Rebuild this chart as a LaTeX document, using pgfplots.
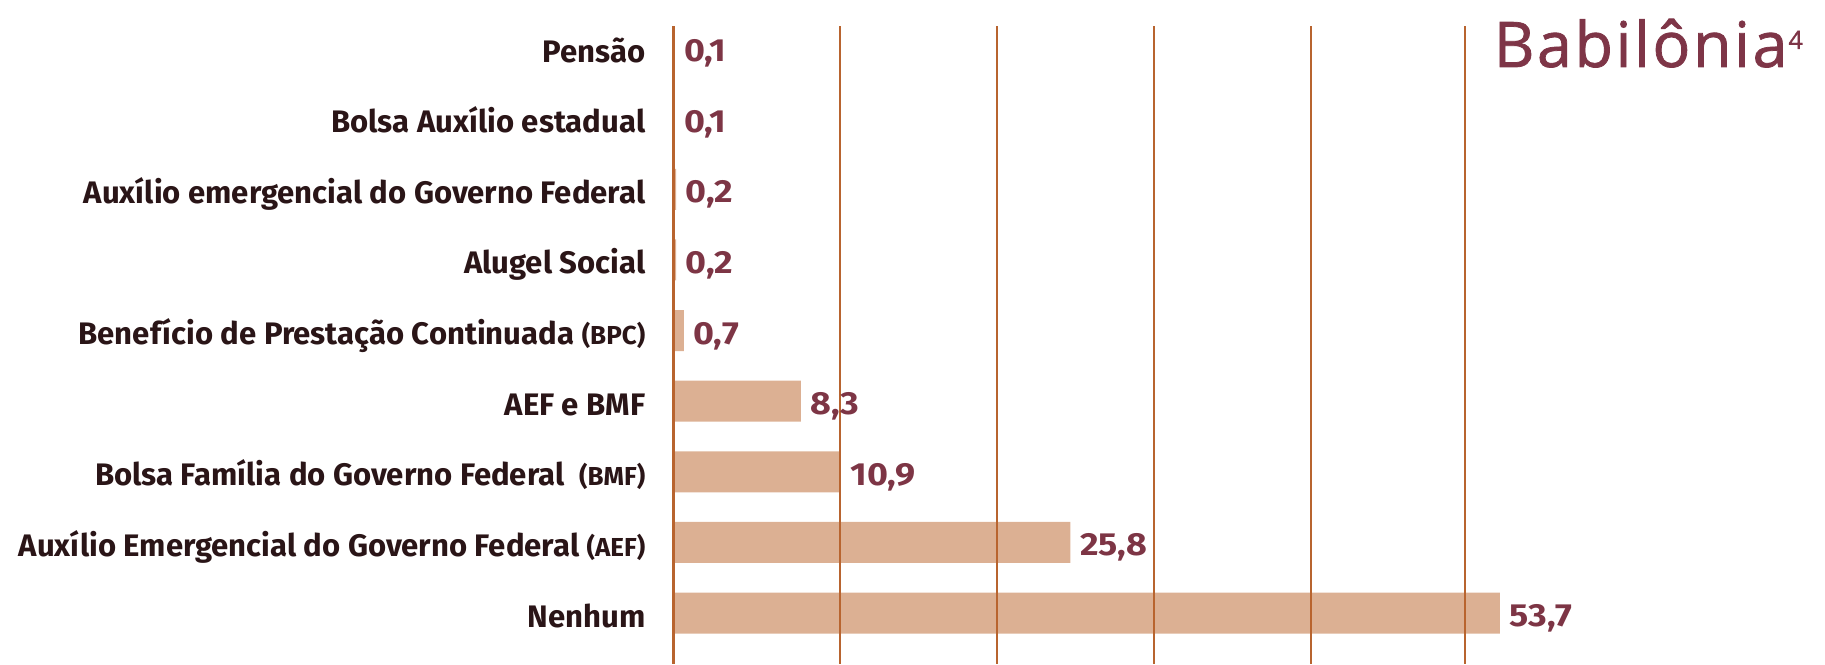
\documentclass[border=0pt]{standalone}
\usepackage{pgfplots}
\pgfplotsset{compat=1.18}
\usepackage{fontspec}
\setmainfont{Fira Sans}
\newfontfamily\valfont{Fira Sans}[FakeStretch=1.12]
\newfontfamily\logofont{Open Sans}[LetterSpace=4, FakeBold=1.2]
\definecolor{axisc}{HTML}{B8642F}
\definecolor{barc}{HTML}{DCB093}
\definecolor{valc}{HTML}{7D3545}
\definecolor{catc}{HTML}{2A1517}
\definecolor{logoc}{HTML}{7E3547}
\newcommand{\smallp}[1]{{\fontsize{7.4pt}{8pt}\selectfont #1}}
\begin{document}
\begin{tikzpicture}
\useasboundingbox (0,0) rectangle (182.5mm,66.4mm);
\begin{axis}[
  at={(67.3mm,5.1mm)}, anchor=origin,
  x=1.54mm, y=7.06mm,
  xmin=0, xmax=74.8, ymin=-0.72, ymax=8.31,
  xbar, bar width=4.1mm,
  axis line style={draw=none},
  xtick={10.84,21.04,31.23,41.43,51.43},
  xticklabels={},
  xmajorgrids,
  grid style={axisc, line width=0.15mm},
  extra x ticks={0}, extra x tick labels={},
  extra x tick style={grid style={axisc, line width=0.3mm}},
  major tick length=0pt,
  ytick={0,...,8},
  yticklabels={
    {Nenhum},
    {Auxílio Emergencial do Governo Federal \smallp{(AEF)}},
    {Bolsa Família do Governo Federal\ \ \smallp{(BMF)}},
    {AEF e BMF},
    {Benefício de Prestação Continuada \smallp{(BPC)}},
    {Alugel Social},
    {Auxílio emergencial do Governo Federal},
    {Bolsa Auxílio estadual},
    {Pensão}},
  yticklabel style={anchor=base east, inner sep=0pt, xshift=-2.7mm, yshift=-1.4mm,
    font=\bfseries\fontsize{8.85pt}{10pt}\selectfont, text=catc},
  axis on top,
  nodes near coords,
  point meta=x,
  nodes near coords style={anchor=base west, inner sep=0pt, xshift=0.9mm, yshift=-1.35mm,
    font=\valfont\bfseries\fontsize{9.1pt}{10pt}\selectfont, text=valc,
    /pgf/number format/.cd, fixed, fixed zerofill, precision=1, use comma, assume math mode=true},
]
\addplot[fill=barc, draw=none] coordinates {
  (53.7,0) (25.8,1) (10.9,2) (8.3,3) (0.7,4) (0.2,5) (0.2,6) (0.1,7) (0.1,8)
};
\end{axis}
\node[anchor=base west, inner sep=0pt, text=logoc,
  font=\logofont\fontsize{17.9pt}{20pt}\selectfont] at (149.3mm,59.7mm)
  {Babilônia\hspace{0.1mm}\raisebox{1.8mm}{\fontsize{7.2pt}{8pt}\selectfont 4}};
\end{tikzpicture}
\end{document}
